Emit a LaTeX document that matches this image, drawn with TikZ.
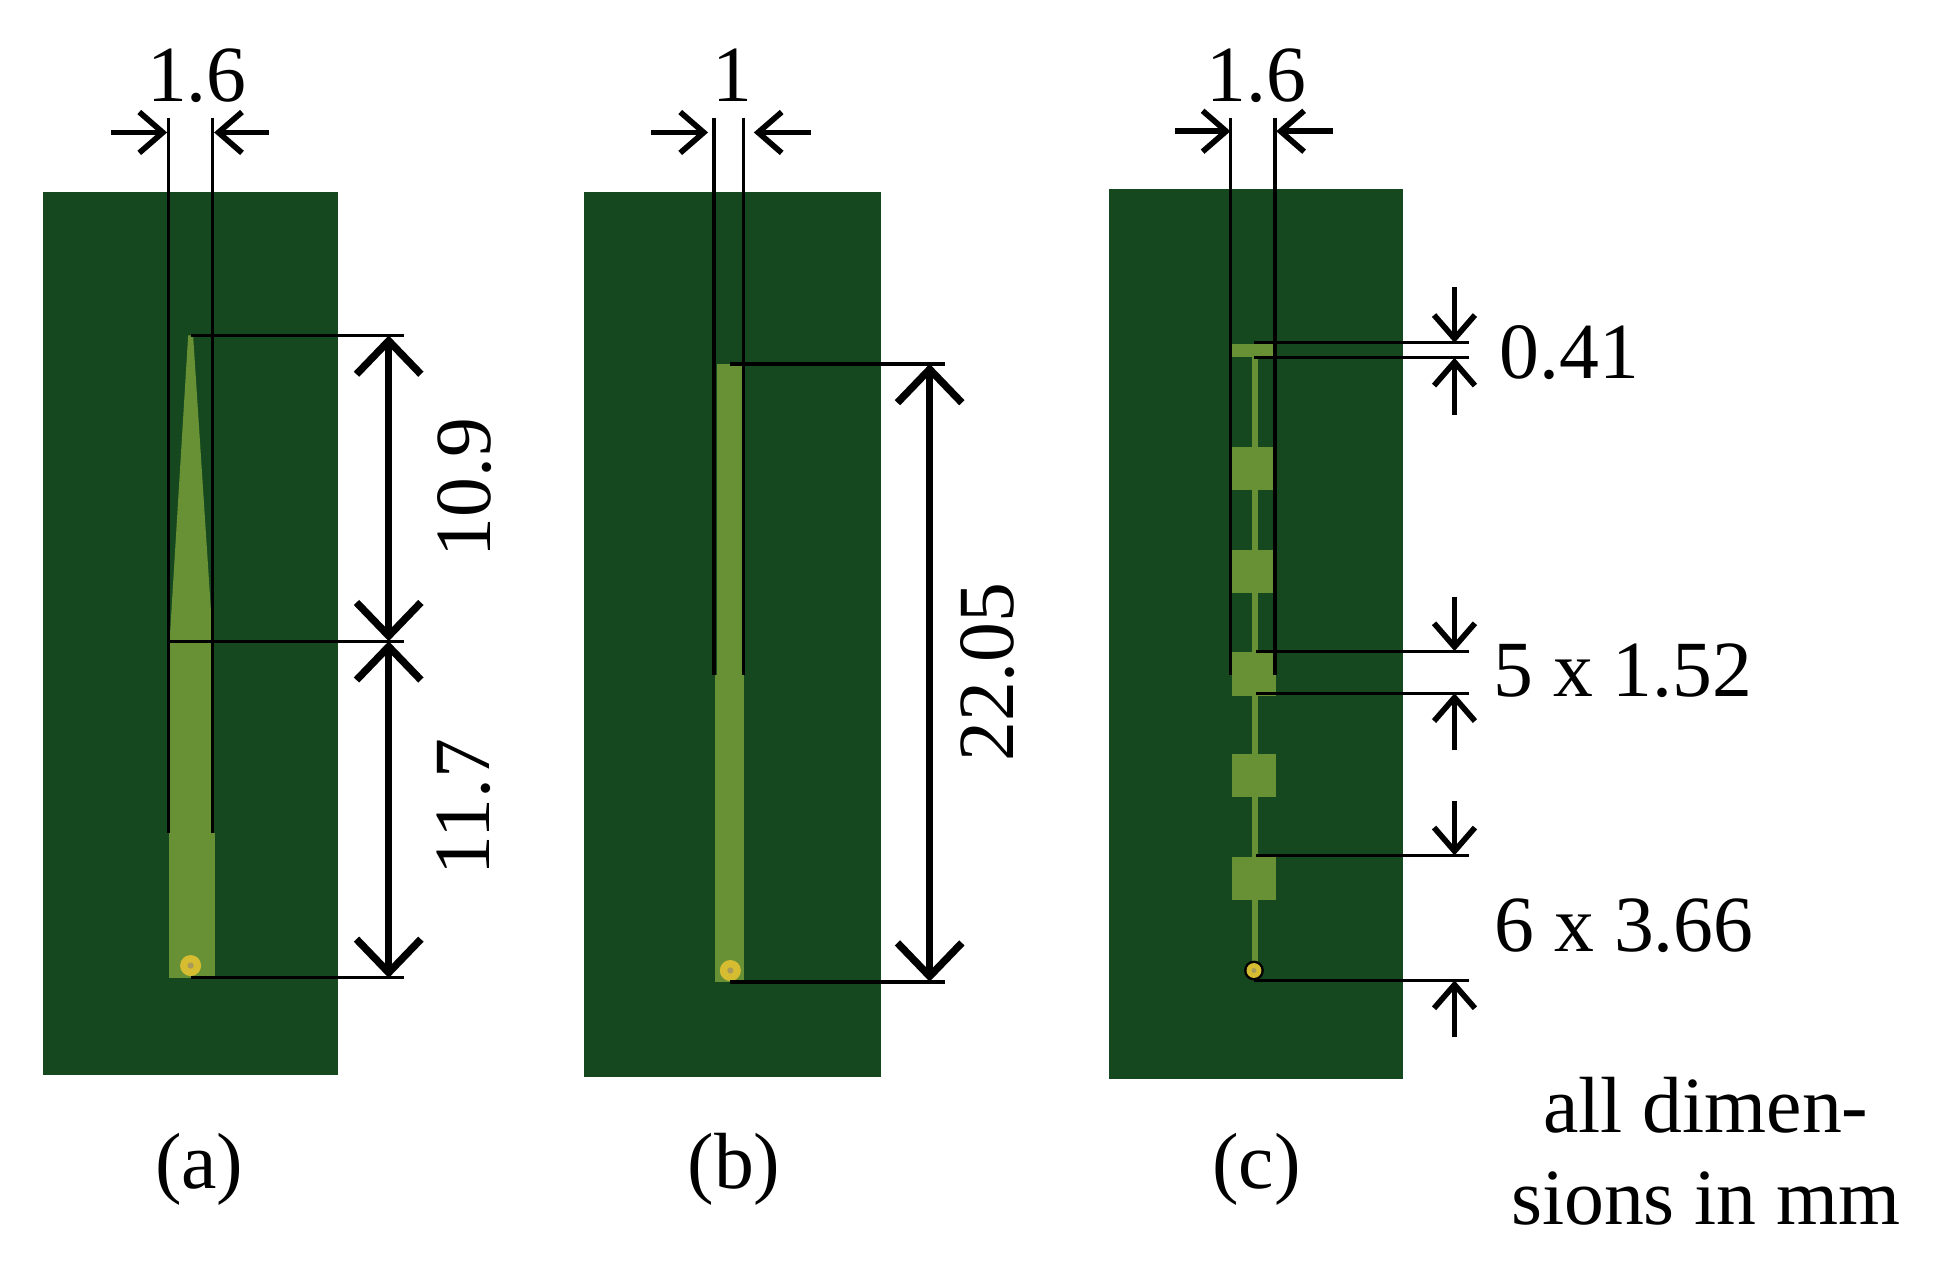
\documentclass[tikz,border=0pt]{standalone}
\usepackage{fontspec}
\setmainfont{Liberation Serif}
\usetikzlibrary{arrows.meta}
\definecolor{board}{HTML}{15481F}
\definecolor{copper}{HTML}{689135}
\definecolor{pad}{HTML}{D6BC30}
\definecolor{hole}{HTML}{A89A5A}
\tikzset{
  x=0.01cm,y=-0.01cm,
  boardbox/.style={fill=board,draw=none},
  metal/.style={fill=copper,draw=none},
  extline/.style={draw=black,line width=0.7pt},
  bigdim/.style={draw=black,line width=1.7pt,{Straight Barb[length=2.7mm,width=5.2mm,line width=1.7pt]}-{Straight Barb[length=2.7mm,width=5.2mm,line width=1.7pt]}},
  smalldim/.style={draw=black,line width=1.3pt,-{Straight Barb[length=1.9mm,width=3.3mm,line width=1.3pt]}},
  label/.style={inner sep=0pt,font=\fontsize{18.3}{21}\selectfont},
}
\newcommand{\via}[2]{\fill[pad] (#1,#2) circle (0.085cm); \fill[hole] (#1,#2) circle (0.025cm);}
\begin{document}
\begin{tikzpicture}
\useasboundingbox (0,0) rectangle (1568,1032);
% Panel (a)
\fill[boardbox] (35,155) rectangle (273,868);
\fill[metal] (137,518) -- (152,271) -- (156,271) -- (172,518) -- cycle;
\fill[metal] (136.5,518) rectangle (172.5,673);
\fill[metal] (136.5,673) rectangle (173.5,790);
\via{154}{780}
\coordinate (a1t) at (136,95); \coordinate (a1b) at (136,673);
\coordinate (a2t) at (172,95); \coordinate (a2b) at (172,673);
\draw[extline] (a1t) -- (a1b);
\draw[extline] (a2t) -- (a2b);
\coordinate (ah1) at (154,271); \coordinate (ah1e) at (326,271);
\coordinate (ah2) at (136,518); \coordinate (ah2e) at (326,518);
\coordinate (ah3) at (154,790); \coordinate (ah3e) at (326,790);
\draw[extline] (ah1) -- (ah1e);
\draw[extline] (ah2) -- (ah2e);
\draw[extline] (ah3) -- (ah3e);
\coordinate (ad1) at (314,271); \coordinate (ad2) at (314,518); \coordinate (ad3) at (314,790);
\draw[bigdim] (ad1) -- (ad2);
\draw[bigdim] (ad2) -- (ad3);
\coordinate (aw1) at (90,107); \coordinate (aw2) at (135,107);
\coordinate (aw3) at (217,107); \coordinate (aw4) at (173,107);
\draw[smalldim] (aw1) -- (aw2);
\draw[smalldim] (aw3) -- (aw4);
\node[label] (awt) at (159,61) {1.6};
\node[label,rotate=90] (ah) at (375,394) {10.9};
\node[label,rotate=90] (al) at (375,652) {11.7};
\node[label] (acap) at (161,945) {(a)};
% Panel (b)
\fill[boardbox] (472,155) rectangle (712,870);
\fill[metal] (579,294) rectangle (601,545);
\fill[metal] (578,545) rectangle (601,793);
\via{590}{784}
\coordinate (b1t) at (577,95); \coordinate (b1b) at (577,545);
\coordinate (b2t) at (601,95); \coordinate (b2b) at (601,545);
\draw[extline,line width=0.9pt] (b1t) -- (b1b);
\draw[extline] (b2t) -- (b2b);
\coordinate (bh1) at (590,294); \coordinate (bh1e) at (763,294);
\coordinate (bh2) at (590,793); \coordinate (bh2e) at (763,793);
\draw[extline,line width=0.9pt] (bh1) -- (bh1e);
\draw[extline,line width=0.9pt] (bh2) -- (bh2e);
\coordinate (bd1) at (751,294); \coordinate (bd2) at (751,793);
\draw[bigdim] (bd1) -- (bd2);
\coordinate (bw1) at (526,107); \coordinate (bw2) at (572,107);
\coordinate (bw3) at (655,107); \coordinate (bw4) at (609,107);
\draw[smalldim] (bw1) -- (bw2);
\draw[smalldim] (bw3) -- (bw4);
\node[label] (bwt) at (592,61) {1};
\node[label,rotate=90] (bh) at (798,543) {22.05};
\node[label] (bcap) at (593,945) {(b)};
% Panel (c)
\fill[boardbox] (896,153) rectangle (1133,872);
\fill[metal] (995,278) rectangle (1030,288);
\fill[metal] (1011,288) rectangle (1016,784);
\foreach \yy in {361,444,527,609,692}{\fill[metal] (995,\yy) rectangle (1031,\yy+35);}
\fill[black] (1013,784) circle (0.08cm);
\fill[pad] (1013,784) circle (0.06cm);
\fill[hole] (1013,784) circle (0.02cm);
\coordinate (c1t) at (994,95); \coordinate (c1b) at (994,545);
\coordinate (c2t) at (1030,95); \coordinate (c2b) at (1030,545);
\draw[extline] (c1t) -- (c1b);
\draw[extline] (c2t) -- (c2b);
\foreach \nm/\yy/\xs in {p/277/1013,q/289/1013,r/526/1015,s/560/1015,t/691/1015,u/792/1013}{
  \coordinate (ch\nm) at (\xs,\yy); \coordinate (ch\nm e) at (1187,\yy);
  \draw[extline] (ch\nm) -- (ch\nm e);}
\foreach \nm/\ya/\yb in {p/232/277,q/335/289,r/482/526,s/606/560,t/647/691,u/838/792}{
  \coordinate (cd\nm a) at (1175,\ya); \coordinate (cd\nm b) at (1175,\yb);
  \draw[smalldim] (cd\nm a) -- (cd\nm b);}
\coordinate (cw1) at (949,106); \coordinate (cw2) at (994,106);
\coordinate (cw3) at (1077,106); \coordinate (cw4) at (1031,106);
\draw[smalldim] (cw1) -- (cw2);
\draw[smalldim] (cw3) -- (cw4);
\node[label] (cwt) at (1015,61) {1.6};
\node[label] (c041) at (1268,285) {0.41};
\node[label] (c152) at (1311,542) {5 x 1.52};
\node[label] (c366) at (1312,748) {6 x 3.66};
\node[label] (ccap) at (1015,945) {(c)};
\node[label] (n1) at (1378,893) {all dimen-};
\node[label] (n2) at (1378,968) {sions in mm};
\end{tikzpicture}
\end{document}
